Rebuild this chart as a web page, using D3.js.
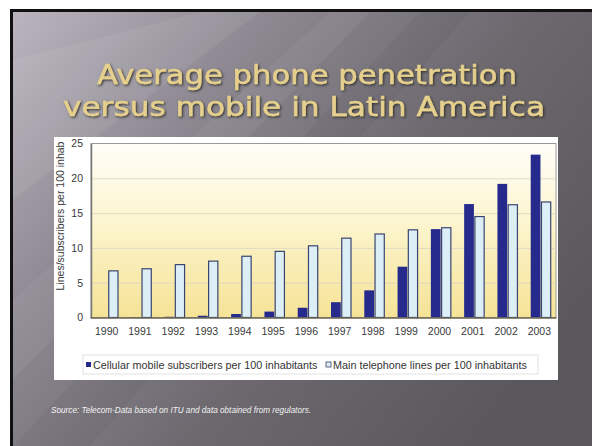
<!DOCTYPE html>
<html>
<head>
<meta charset="utf-8">
<script src="https://cdn.jsdelivr.net/npm/d3@7"></script>
<style>
body { margin: 0; background: #fff; }
svg { display: block; }
.tick text { font-family: Arial, "Liberation Sans", sans-serif; }
</style>
</head>
<body>
<div id="chart"></div>
<script>
// data
var years = ["1990","1991","1992","1993","1994","1995","1996","1997","1998","1999","2000","2001","2002","2003"];
var cellular = [0, 0.05, 0.1, 0.25, 0.5, 0.85, 1.4, 2.2, 3.9, 7.3, 12.7, 16.3, 19.2, 23.4];
var mainLines = [6.7, 7.0, 7.6, 8.1, 8.8, 9.5, 10.3, 11.4, 12.0, 12.6, 12.9, 14.5, 16.2, 16.6];
var yTicks = [0, 5, 10, 15, 20, 25];
var seriesNames = ["Cellular mobile subscribers per 100 inhabitants", "Main telephone lines per 100 inhabitants"];
var titleLines = ["Average phone penetration", "versus mobile in Latin America"];
var sourceText = "Source: Telecom-Data based on ITU and data obtained from regulators.";

var width = 592,
height = 446;

var svg = d3.select("#chart")
.append("svg")
.attr("width", width)
.attr("height", height);

var defs = svg.append("defs");

// slide background
var bg = defs.append("linearGradient")
.attr("id", "slideBg")
.attr("x1", "0").attr("y1", "0")
.attr("x2", "1").attr("y2", "0.6");
bg.append("stop").attr("offset", "0").attr("stop-color", "#b9b4bd");
bg.append("stop").attr("offset", "0.3").attr("stop-color", "#8f8a93");
bg.append("stop").attr("offset", "0.65").attr("stop-color", "#6c686e");
bg.append("stop").attr("offset", "1").attr("stop-color", "#5a585d");

var plotBg = defs.append("linearGradient")
.attr("id", "plotBg")
.attr("x1", "0").attr("y1", "0")
.attr("x2", "0").attr("y2", "1");
plotBg.append("stop").attr("offset", "0").attr("stop-color", "#fffef8");
plotBg.append("stop").attr("offset", "0.45").attr("stop-color", "#fcf5cf");
plotBg.append("stop").attr("offset", "1").attr("stop-color", "#f5e396");

var shadow = defs.append("filter").attr("id", "shadow")
.attr("x", "-5%").attr("y", "-20%").attr("width", "110%").attr("height", "140%");
shadow.append("feDropShadow")
.attr("dx", 1.2).attr("dy", 1.2).attr("stdDeviation", 0.8)
.attr("flood-color", "#2a2620").attr("flood-opacity", 0.9);

// black border and slide
svg.append("rect")
.attr("x", 10).attr("y", 9)
.attr("width", width).attr("height", height)
.attr("fill", "#111");

svg.append("rect")
.attr("x", 13).attr("y", 12)
.attr("width", width).attr("height", height)
.attr("fill", "url(#slideBg)");

// soft diagonal streaks
svg.append("path")
.attr("d", "M13,60 L200,12 L260,12 L13,200 Z")
.attr("fill", "#ffffff").attr("opacity", 0.07);
svg.append("path")
.attr("d", "M13,300 L330,12 L370,12 L13,380 Z")
.attr("fill", "#ffffff").attr("opacity", 0.05);
svg.append("path")
.attr("d", "M13,446 L420,12 L470,12 L90,446 Z")
.attr("fill", "#000000").attr("opacity", 0.04);

// title
svg.selectAll(".title")
.data(titleLines)
.enter()
.append("text")
.attr("class", "title")
.attr("x", function(d, i) { return i == 0 ? 307 : 304; })
.attr("y", function(d, i) { return 84 + i * 32; })
.attr("text-anchor", "middle")
.attr("textLength", function(d, i) { return i == 0 ? 420 : 482; })
.attr("lengthAdjust", "spacingAndGlyphs")
.style("font-family", "'DejaVu Sans', sans-serif")
.style("font-size", "27px")
.attr("fill", "#e6d08e")
.attr("stroke", "#e6d08e")
.attr("stroke-width", 0.5)
.attr("filter", "url(#shadow)")
.text(function(d) { return d; });

// white chart panel
svg.append("rect")
.attr("x", 54).attr("y", 137)
.attr("width", 504).attr("height", 243)
.attr("fill", "#ffffff");

// scales
var xScale = d3.scaleBand()
.domain(years)
.range([90, 556]);

var xInner = d3.scaleBand()
.domain(["cell", "main"])
.range([8, 28.5]);

var yScale = d3.scaleLinear()
.domain([0, 25])
.range([317.5, 143.5]);

// plot background
svg.append("rect")
.attr("x", 91).attr("y", yScale(25))
.attr("width", 465).attr("height", yScale(0) - yScale(25))
.attr("fill", "url(#plotBg)")
.attr("stroke", "#9a9a9a")
.attr("stroke-width", 1);

// gridlines
svg.append("g")
.attr("transform", "translate(91,0)")
.call(d3.axisLeft(yScale)
	.tickValues([5, 10, 15, 20])
	.tickSize(-465)
	.tickFormat(""))
.call(function(g) { g.select(".domain").remove(); })
.selectAll("line")
.attr("stroke", "#d8d4c4")
.attr("stroke-width", 0.8);

// bars
var rows = years.map(function(y, i) {
	return { year: y, cell: cellular[i], main: mainLines[i] };
});

var groups = svg.selectAll(".year")
.data(rows)
.enter()
.append("g")
.attr("transform", function(d) { return "translate(" + xScale(d.year) + ",0)"; });

groups.append("rect")
.attr("x", xInner("cell"))
.attr("width", xInner.bandwidth() - 0.5)
.attr("y", function(d) { return yScale(d.cell); })
.attr("height", function(d) { return yScale(0) - yScale(d.cell); })
.attr("fill", "#252a8c");

groups.append("rect")
.attr("x", xInner("main") + 0.5)
.attr("width", xInner.bandwidth() - 1)
.attr("y", function(d) { return yScale(d.main); })
.attr("height", function(d) { return yScale(0) - yScale(d.main); })
.attr("fill", "#dceef6")
.attr("stroke", "#3b4470")
.attr("stroke-width", 1.2);

// y axis
var yAxis = svg.append("g")
.attr("transform", "translate(91,0)")
.call(d3.axisLeft(yScale)
	.tickValues(yTicks)
	.tickSize(0)
	.tickPadding(8));
yAxis.select(".domain").attr("stroke", "#777").attr("stroke-width", 1.5);
yAxis.selectAll("text")
.style("font-size", "10.5px")
.attr("fill", "#3a3a3a");

// x axis
var xAxis = svg.append("g")
.attr("transform", "translate(0," + yScale(0) + ")")
.call(d3.axisBottom(xScale)
	.tickSize(0)
	.tickPadding(10));
xAxis.select(".domain").attr("stroke", "#6b6650").attr("stroke-width", 1.6);
xAxis.selectAll("text")
.style("font-size", "10.5px")
.attr("fill", "#3a3a3a");

// y axis title
svg.append("text")
.attr("transform", "translate(64,216) rotate(-90)")
.attr("text-anchor", "middle")
.style("font-family", "Arial, 'Liberation Sans', sans-serif")
.style("font-size", "10.5px")
.attr("fill", "#3a3a3a")
.text("Lines/subscribers per 100 inhab");

// legend
svg.append("rect")
.attr("x", 83).attr("y", 355)
.attr("width", 455).attr("height", 19)
.attr("fill", "#ffffff")
.attr("stroke", "#e2e2e2");

var legendX = [86, 326];
var legend = svg.selectAll(".legend")
.data(seriesNames)
.enter()
.append("g")
.attr("transform", function(d, i) { return "translate(" + legendX[i] + ",365)"; });

legend.append("rect")
.attr("x", 0).attr("y", -3)
.attr("width", 5).attr("height", 5)
.attr("fill", function(d, i) { return i == 0 ? "#252a8c" : "#dceef6"; })
.attr("stroke", function(d, i) { return i == 0 ? "none" : "#3b4470"; })
.attr("stroke-width", 0.8);

legend.append("text")
.attr("x", 7)
.attr("y", 3.5)
.style("font-family", "Arial, 'Liberation Sans', sans-serif")
.style("font-size", "10.8px")
.attr("fill", "#333")
.text(function(d) { return d; });

// source note
svg.append("text")
.attr("x", 51)
.attr("y", 413)
.style("font-family", "Arial, 'Liberation Sans', sans-serif")
.style("font-size", "8.2px")
.style("font-style", "italic")
.attr("fill", "#f2f2f2")
.text(sourceText);
</script>
</body>
</html>
